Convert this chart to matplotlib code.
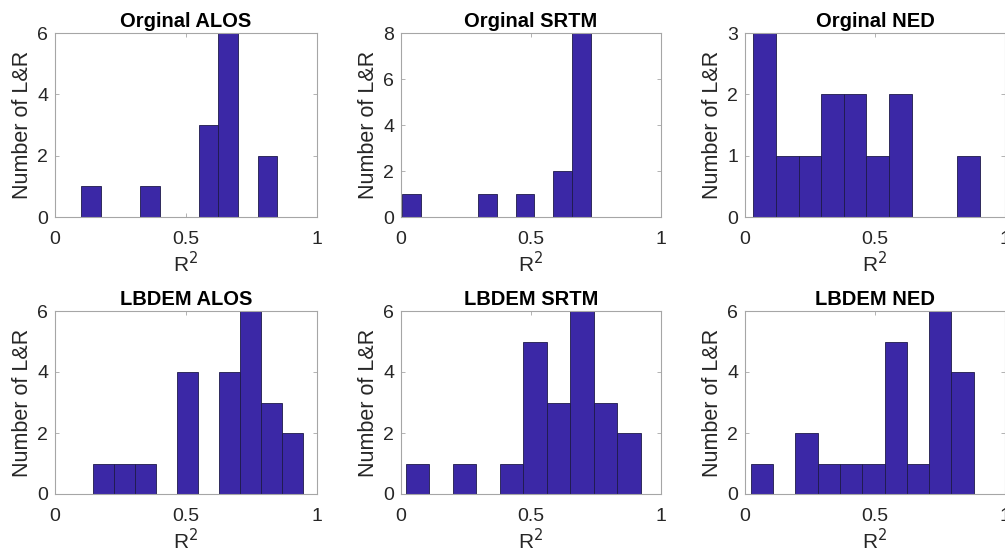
"""MATLAB-style R^2 histograms for original vs LBDEM DEMs (2x3 grid)."""

import matplotlib

matplotlib.use("Agg")
import matplotlib.pyplot as plt
import numpy as np

plt.rcParams["font.family"] = ["Liberation Sans", "DejaVu Sans"]

# panel titles, row by row
titles = ["Orginal ALOS", "Orginal SRTM", "Orginal NED",
          "LBDEM ALOS", "LBDEM SRTM", "LBDEM NED"]

# 10-bin histograms: first / last bin edge and counts per bin
bin_start = [0.099, 0.003, 0.032, 0.1465, 0.018, 0.022]
bin_end = [0.849, 0.732, 0.902, 0.9465, 0.923, 0.880]
counts_orig_alos = [1, 0, 0, 1, 0, 0, 3, 6, 0, 2]
counts_orig_srtm = [1, 0, 0, 0, 1, 0, 1, 0, 2, 8]
counts_orig_ned = [3, 1, 1, 2, 2, 1, 2, 0, 0, 1]
counts_lb_alos = [1, 1, 1, 0, 4, 0, 4, 6, 3, 2]
counts_lb_srtm = [1, 0, 1, 0, 1, 5, 3, 6, 3, 2]
counts_lb_ned = [1, 0, 2, 1, 1, 1, 5, 1, 6, 4]
all_counts = [counts_orig_alos, counts_orig_srtm, counts_orig_ned,
              counts_lb_alos, counts_lb_srtm, counts_lb_ned]

y_max = [6, 8, 3, 6, 6, 6]
y_step = [2, 2, 1, 2, 2, 2]

# axes boxes in pixels (left, top, right, bottom) for a 1005x554 canvas
W, H = 1005, 554
boxes = [(55, 33, 317, 217), (401, 33, 661, 217), (745, 33, 1005, 217),
         (55, 311, 317, 494), (401, 311, 661, 494), (745, 311, 1005, 494)]

BAR = "#3b28a6"
EDGE = "#1e1a4a"
SPINE = "#a6a6a6"
TEXT = "#262626"

fig = plt.figure(figsize=(W / 100, H / 100), dpi=100)

for i, (title, counts) in enumerate(zip(titles, all_counts)):
    l, t, r, b = boxes[i]
    ax = fig.add_axes([l / W, 1 - b / H, (r - l) / W, (b - t) / H])
    edges = np.linspace(bin_start[i], bin_end[i], len(counts) + 1)
    ax.bar(edges[:-1], counts, width=np.diff(edges), align="edge",
           color=BAR, edgecolor=EDGE, linewidth=0.6, zorder=2)
    ax.set_xlim(0, 1)
    ax.set_ylim(0, y_max[i])
    ax.set_xticks([0, 0.5, 1])
    ax.set_xticklabels(["0", "0.5", "1"])
    ax.set_yticks(np.arange(0, y_max[i] + 1, y_step[i]))
    ax.tick_params(direction="in", length=3, width=0.6, color=SPINE,
                   labelsize=14, labelcolor=TEXT, top=True, right=True)
    ax.tick_params(axis="x", pad=10)
    ax.tick_params(axis="y", pad=5)
    for s in ax.spines.values():
        s.set_color(SPINE)
        s.set_linewidth(0.8)
    ax.set_title(title, fontsize=14.5, fontweight="bold", pad=4, color="black")
    ax.set_xlabel("R$^2$", fontsize=15, color=TEXT, labelpad=2)
    ax.set_ylabel("Number of L&R", fontsize=15.5, color=TEXT, labelpad=3)

fig.savefig("out.png", dpi=100)
